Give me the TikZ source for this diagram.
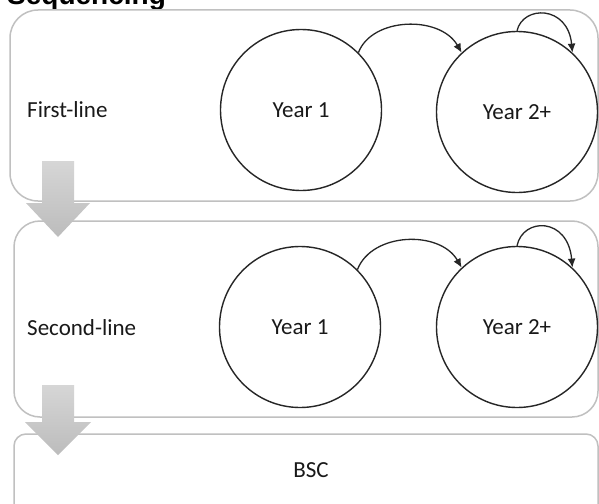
\documentclass[tikz,border=0pt]{standalone}
\usepackage{fontspec}
\setmainfont{Carlito}
\newfontfamily\titlefont{Liberation Sans}
\usetikzlibrary{arrows.meta}
\definecolor{boxgray}{RGB}{192,192,192}
\definecolor{arrtop}{RGB}{214,214,214}
\definecolor{arrbot}{RGB}{188,188,188}
\definecolor{txt}{RGB}{25,25,25}
\tikzset{
  lanebox/.style={draw=boxgray, line width=1.5pt, fill=white},
  yearnode/.style={circle, draw=black!85, line width=1.4pt, minimum size=161pt, inner sep=0pt, font=\fontsize{23}{25}\selectfont, text=txt},
  lanelabel/.style={anchor=west, inner sep=0pt, font=\fontsize{23}{25}\selectfont, text=txt},
  flowarrow/.style={line width=1.3pt, draw=black!85, -{Latex[length=9pt,width=8pt]}},
  blockarrow/.style={top color=arrtop, bottom color=arrbot, draw=none}
}
\begin{document}
\begin{tikzpicture}[x=1pt,y=-1pt]
\useasboundingbox (0,0) rectangle (599,503);
\clip (0,0) rectangle (599,503);
\fill[white] (0,0) rectangle (599,503);
% title (cut off by the top edge, as in the reference)
\node[anchor=base west, inner sep=0pt, font=\titlefont\bfseries\fontsize{28}{30}\selectfont] (title) at (7,5) {Sequencing};
% lanes
\draw[lanebox, rounded corners=28pt] (10,10) rectangle (598,201);
\draw[lanebox, rounded corners=26pt] (14,221) rectangle (598,417);
\draw[lanebox, rounded corners=12pt] (14,434) rectangle (598,530);
% block arrows
\path[blockarrow] (42,161) -- (74,161) -- (74,203) -- (90,203) -- (58,237) -- (26,203) -- (42,203) -- cycle;
\path[blockarrow] (42,385) -- (74,385) -- (74,422) -- (91,422) -- (58,455) -- (25,422) -- (42,422) -- cycle;
% labels
\node[lanelabel] (l1) at (27,110) {First-line};
\node[lanelabel] (l2) at (27,328) {Second-line};
\node[font=\fontsize{23}{25}\selectfont, text=txt] (l3) at (311,470) {BSC};
% circles
\node[yearnode] (a1) at (301,110) {Year 1};
\node[yearnode] (b1) at (517,112) {Year 2+};
\node[yearnode] (a2) at (300,327) {Year 1};
\node[yearnode] (b2) at (517,327) {Year 2+};
% connectors
\draw[flowarrow] (a1.45) .. controls (372,17) and (440,15) .. (b1.133);
\draw[flowarrow] (b1.90) .. controls (523,5) and (568,5) .. (b1.47);
\draw[flowarrow] (a2.45) .. controls (372,232) and (440,230) .. (b2.133);
\draw[flowarrow] (b2.90) .. controls (523,217) and (568,217) .. (b2.47);
\end{tikzpicture}
\end{document}
